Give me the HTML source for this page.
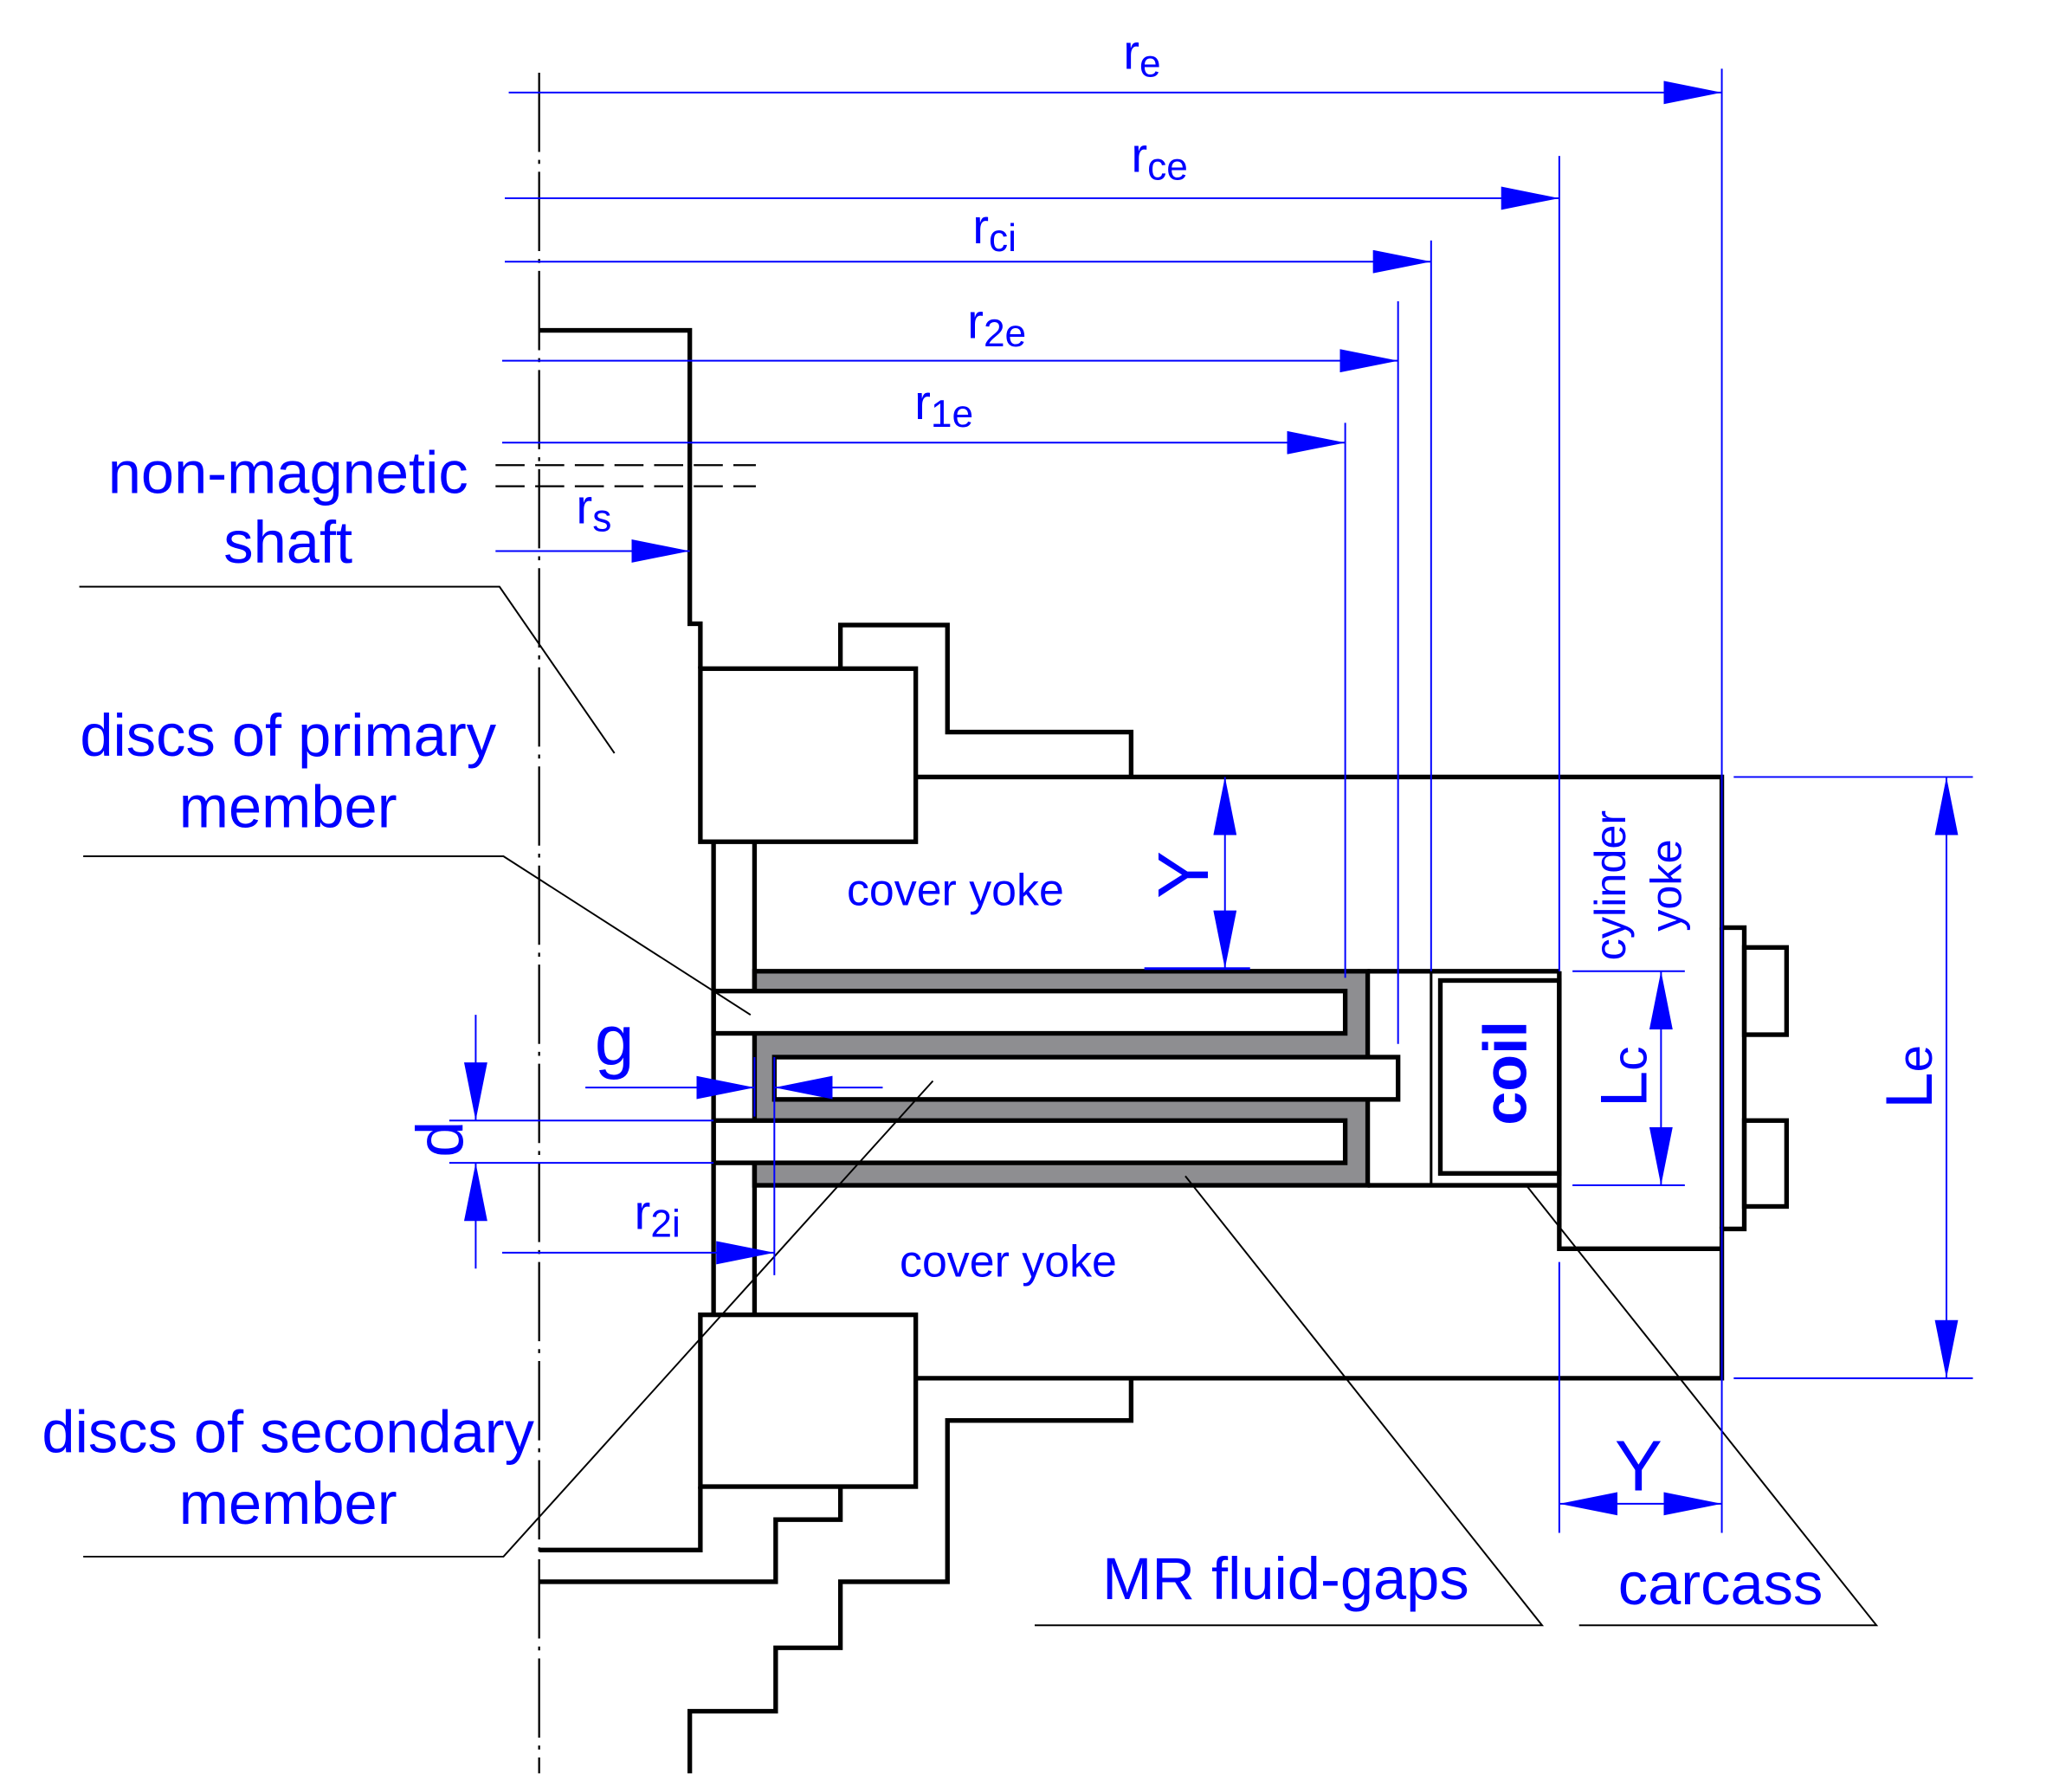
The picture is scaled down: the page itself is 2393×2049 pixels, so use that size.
<!DOCTYPE html>
<html><head><meta charset="utf-8"><style>html,body{margin:0;padding:0;background:#fff}svg{display:block}</style></head>
<body>
<svg width="2393" height="2049" viewBox="0 0 1568 1342.5" preserveAspectRatio="none" xmlns="http://www.w3.org/2000/svg" font-family="Liberation Sans, Arial, sans-serif">
<defs>
<marker id="a" viewBox="0 0 10 4" refX="10" refY="2" markerWidth="44" markerHeight="17.6" markerUnits="userSpaceOnUse" orient="auto-start-reverse"><path d="M0,0L10,2L0,4z" fill="#0000ff"/></marker>
</defs>
<rect width="1568" height="1342.5" fill="#fff"/>
<line x1="408" y1="55" x2="408" y2="1342" stroke="#000" stroke-width="1.5" stroke-dasharray="60,6,3,6"/>
<g fill="none" stroke="#000" stroke-width="3.5">
<rect x="571" y="735" width="464" height="162" fill="#8e8e91"/>
<rect x="540" y="750" width="478" height="32" fill="#fff"/>
<rect x="586" y="800" width="472" height="32" fill="#fff"/>
<rect x="540" y="848" width="478" height="32" fill="#fff"/>
<polyline points="1035,735 1180,735"/><polyline points="1035,897 1180,897"/>
<line x1="1083" y1="735" x2="1083" y2="897" stroke-width="2"/>
<rect x="1090" y="742" width="90" height="146" stroke-width="3.5"/>
<polyline points="408,250 522,250 522,472 530,472 530,506"/>
<rect x="530" y="506" width="163" height="131"/>
<polyline points="636,506 636,473 717,473 717,554 856,554 856,588"/>
<polyline points="693,588 1303,588 1303,702 1320,702 1320,930 1303,930 1303,1043 693,1043"/>
<polyline points="1303,702 1303,930"/>
<rect x="1320" y="717" width="32" height="66"/>
<rect x="1320" y="848" width="32" height="65"/>
<polyline points="1180,735 1180,945 1303,945"/>
<line x1="540" y1="637" x2="540" y2="995"/>
<line x1="571" y1="637" x2="571" y2="750"/>
<line x1="571" y1="880" x2="571" y2="995"/>
<rect x="530" y="995" width="163" height="130"/>
<polyline points="530,1125 530,1173 408,1173"/>
<polyline points="636,1125 636,1150 587,1150 587,1197 408,1197"/>
<polyline points="856,1043 856,1075 717,1075 717,1197 636,1197 636,1247 587,1247 587,1295 522,1295 522,1342"/>
</g>
<g stroke="#000" stroke-width="1.5" stroke-dasharray="22,8"><line x1="375" y1="352" x2="572" y2="352"/><line x1="375" y1="368" x2="572" y2="368"/></g>
<g fill="none" stroke="#000" stroke-width="1.3">
<polyline points="60,444 378,444 465,570"/>
<polyline points="63,648 381,648 568,768"/>
<polyline points="63,1178 381,1178 706,818"/>
<polyline points="783,1230 1167,1230 897,890"/>
<polyline points="1195,1230 1420,1230 1155,897"/>
</g>
<g stroke="#0000ff" stroke-width="1.3" fill="none">
<line x1="385" y1="70" x2="1303" y2="70" marker-end="url(#a)"/>
<line x1="382" y1="150" x2="1180" y2="150" marker-end="url(#a)"/>
<line x1="382" y1="198" x2="1083" y2="198" marker-end="url(#a)"/>
<line x1="380" y1="273" x2="1058" y2="273" marker-end="url(#a)"/>
<line x1="380" y1="335" x2="1018" y2="335" marker-end="url(#a)"/>
<line x1="375" y1="417" x2="522" y2="417" marker-end="url(#a)"/>
<line x1="1303" y1="52" x2="1303" y2="1160"/>
<line x1="1180" y1="118" x2="1180" y2="735"/>
<line x1="1180" y1="955" x2="1180" y2="1160"/>
<line x1="1083" y1="182" x2="1083" y2="735"/>
<line x1="1058" y1="228" x2="1058" y2="790"/>
<line x1="1018" y1="320" x2="1018" y2="740"/>
<line x1="927" y1="588" x2="927" y2="733" marker-start="url(#a)" marker-end="url(#a)"/>
<line x1="866" y1="733" x2="946" y2="733" stroke-width="2"/>
<line x1="1257" y1="735" x2="1257" y2="897" marker-start="url(#a)" marker-end="url(#a)"/>
<line x1="1190" y1="735" x2="1275" y2="735"/><line x1="1190" y1="897" x2="1275" y2="897"/>
<line x1="1473" y1="588" x2="1473" y2="1043" marker-start="url(#a)" marker-end="url(#a)"/>
<line x1="1312" y1="588" x2="1493" y2="588"/><line x1="1312" y1="1043" x2="1493" y2="1043"/>
<line x1="1180" y1="1138" x2="1303" y2="1138" marker-start="url(#a)" marker-end="url(#a)"/>
<line x1="443" y1="823" x2="571" y2="823" marker-end="url(#a)"/>
<line x1="668" y1="823" x2="586" y2="823" marker-end="url(#a)"/>
<line x1="360" y1="768" x2="360" y2="848" marker-end="url(#a)"/>
<line x1="360" y1="960" x2="360" y2="880" marker-end="url(#a)"/>
<line x1="340" y1="848" x2="540" y2="848"/><line x1="340" y1="880" x2="540" y2="880"/>
<line x1="380" y1="948" x2="586" y2="948" marker-end="url(#a)"/>
<line x1="586" y1="800" x2="586" y2="965"/>
<line x1="571" y1="800" x2="571" y2="845"/>
</g>
<g fill="#0000ff">
<text x="850" y="52" font-size="37">r<tspan font-size="29" dy="6">e</tspan></text>
<text x="856" y="130" font-size="37">r<tspan font-size="29" dy="6">ce</tspan></text>
<text x="736" y="184" font-size="37">r<tspan font-size="29" dy="6">ci</tspan></text>
<text x="732" y="256" font-size="37">r<tspan font-size="29" dy="6">2e</tspan></text>
<text x="692" y="317" font-size="37">r<tspan font-size="29" dy="6">1e</tspan></text>
<text x="436" y="396" font-size="37">r<tspan font-size="29" dy="6">s</tspan></text>
<text x="480" y="930" font-size="37">r<tspan font-size="29" dy="6">2i</tspan></text>
<text x="450" y="806" font-size="54">g</text>
<text x="218" y="373" font-size="45" text-anchor="middle">non-magnetic</text>
<text x="218" y="426" font-size="45" text-anchor="middle">shaft</text>
<text x="218" y="572" font-size="45" text-anchor="middle">discs of primary</text>
<text x="218" y="626" font-size="45" text-anchor="middle">member</text>
<text x="218" y="1099" font-size="45" text-anchor="middle">discs of secondary</text>
<text x="218" y="1153" font-size="45" text-anchor="middle">member</text>
<text x="973" y="1210" font-size="45" text-anchor="middle">MR fluid-gaps</text>
<text x="1302" y="1214" font-size="45" text-anchor="middle">carcass</text>
<text x="723" y="685" font-size="34" text-anchor="middle">cover yoke</text>
<text x="763" y="966" font-size="34" text-anchor="middle">cover yoke</text>
<text x="1240" y="1128" font-size="54" text-anchor="middle">Y</text>
<text transform="translate(914,662) rotate(-90)" font-size="54" text-anchor="middle">Y</text>
<text transform="translate(1155,812) rotate(-90)" font-size="46" font-weight="bold" text-anchor="middle">coil</text>
<text transform="translate(1230,670) rotate(-90)" font-size="33" text-anchor="middle">cylinder</text>
<text transform="translate(1272,670) rotate(-90)" font-size="33" text-anchor="middle">yoke</text>
<text transform="translate(1246,815) rotate(-90)" font-size="50" text-anchor="middle">L<tspan font-size="37">c</tspan></text>
<text transform="translate(1462,815) rotate(-90)" font-size="50" text-anchor="middle">L<tspan font-size="37">e</tspan></text>
<text transform="translate(350,862) rotate(-90)" font-size="50" text-anchor="middle">d</text>
</g>
</svg>
</body></html>
